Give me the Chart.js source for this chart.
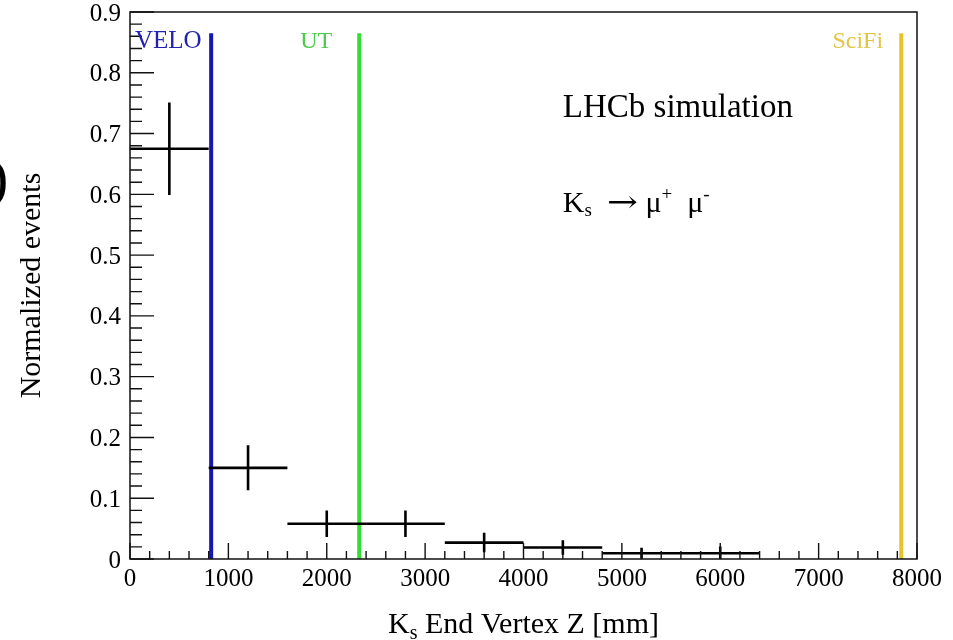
<!DOCTYPE html>
<html><head><meta charset="utf-8">
<script src="https://cdn.jsdelivr.net/npm/chart.js@4.4.1/dist/chart.umd.min.js"></script>
<style>html,body{margin:0;padding:0;background:#fff;}#wrap{width:953px;height:640px;position:relative;}</style>
</head><body><div id="wrap"><canvas id="c"></canvas></div>
<script>
// ---- data ----
const binLow    = [0, 800, 1600, 2400, 3200, 4000, 4800, 5600];
const binHigh   = [800, 1600, 2400, 3200, 4000, 4800, 5600, 6400];
const binValues = [0.675, 0.150, 0.058, 0.058, 0.027, 0.019, 0.0095, 0.0095];
const binErrors = [0.076, 0.037, 0.022, 0.022, 0.016, 0.012, 0.009, 0.011];
const detectorNames = ['VELO', 'UT', 'SciFi'];
const detectorZ     = [825, 2330, 7840];
const detectorTop   = 0.865;
const detectorLabelZ = [50, 1730, 7140];
const xTicks = [0, 1000, 2000, 3000, 4000, 5000, 6000, 7000, 8000];
const yTicks = [0, 0.1, 0.2, 0.3, 0.4, 0.5, 0.6, 0.7, 0.8, 0.9];

const SERIF = "'Liberation Serif', 'DejaVu Serif', serif";
const detectorColors = ['#1616b2', '#33dd33', '#e8c22e'];
const detectorTextColors = ['#2222b0', '#4ccc4c', '#e2c446'];
const detectorLabelSize = [25, 24, 24];

const detectorDatasets = detectorNames.map((n, i) => ({
  type: 'line', label: n,
  data: [{x: detectorZ[i], y: 0}, {x: detectorZ[i], y: detectorTop}],
  borderColor: detectorColors[i], borderWidth: 4, pointRadius: 0, showLine: true, order: 2
}));
const pointsDataset = {
  type: 'scatter', label: 'events',
  data: binValues.map((v, i) => ({x: (binLow[i] + binHigh[i]) / 2, y: v})),
  pointRadius: 0, showLine: false, order: 1
};

function partFont(p) { return p[1] + 'px ' + (p[3] || SERIF); }
function partWidth(ctx, p) { ctx.font = partFont(p); return p[4] || ctx.measureText(p[0]).width; }
function drawRich(ctx, parts, x, y) {
  let cx = x;
  for (const p of parts) {
    ctx.font = partFont(p);
    const nat = ctx.measureText(p[0]).width;
    if (p[4]) {
      ctx.save(); ctx.translate(cx, y + p[2]); ctx.scale(p[4] / nat, 1);
      ctx.fillText(p[0], 0, 0); ctx.restore();
      cx += p[4];
    } else {
      ctx.fillText(p[0], cx, y + p[2]);
      cx += nat;
    }
  }
  return cx - x;
}
function richWidth(ctx, parts) {
  let w = 0;
  for (const p of parts) w += partWidth(ctx, p);
  return w;
}

const rootPlugin = {
  id: 'rootStyle',
  beforeDraw(chart) {
    const ctx = chart.ctx; ctx.save(); ctx.fillStyle = '#fff';
    ctx.fillRect(0, 0, chart.width, chart.height); ctx.restore();
  },
  afterDatasetsDraw(chart) {
    const {ctx, chartArea: a, scales: {x, y}} = chart;
    ctx.save();
    // error crosses
    ctx.strokeStyle = '#000'; ctx.lineWidth = 2.6; ctx.lineCap = 'butt';
    for (let i = 0; i < binValues.length; i++) {
      const yc = y.getPixelForValue(binValues[i]);
      const xc = x.getPixelForValue((binLow[i] + binHigh[i]) / 2);
      ctx.beginPath();
      ctx.moveTo(x.getPixelForValue(binLow[i]), yc);
      ctx.lineTo(x.getPixelForValue(binHigh[i]), yc);
      ctx.moveTo(xc, y.getPixelForValue(binValues[i] + binErrors[i]));
      ctx.lineTo(xc, y.getPixelForValue(Math.max(0, binValues[i] - binErrors[i])));
      ctx.stroke();
    }
    // frame
    ctx.lineWidth = 1.5; ctx.strokeStyle = '#111';
    ctx.strokeRect(a.left, a.top, a.right - a.left, a.bottom - a.top);
    // ticks (ROOT style, inside)
    ctx.lineWidth = 1.4; ctx.beginPath();
    for (let k = 0; k <= 40; k++) {
      const px = x.getPixelForValue(k * 200);
      const len = k % 5 === 0 ? 16 : 8;
      ctx.moveTo(px, a.bottom); ctx.lineTo(px, a.bottom - len);
    }
    for (let k = 0; k <= 45; k++) {
      const py = y.getPixelForValue(k * 0.02);
      const len = k % 5 === 0 ? 24 : 12;
      ctx.moveTo(a.left, py); ctx.lineTo(a.left + len, py);
    }
    ctx.stroke();
    // detector labels
    ctx.textBaseline = 'alphabetic'; ctx.textAlign = 'left';
    detectorNames.forEach((n, i) => {
      ctx.font = detectorLabelSize[i] + 'px ' + SERIF;
      ctx.fillStyle = detectorTextColors[i];
      ctx.fillText(n, x.getPixelForValue(detectorLabelZ[i]), y.getPixelForValue(0.84));
    });
    // annotations
    ctx.fillStyle = '#000';
    ctx.font = '33px ' + SERIF;
    const annX = x.getPixelForValue(4400);
    ctx.fillText('LHCb simulation', annX, y.getPixelForValue(0.727));
    drawRich(ctx, [['K', 30, 0], ['s', 19, 4], ['  ', 30, 0], ['\u2192', 30, 0, "'DejaVu Serif', serif", 31], [' \u03bc', 30, 0], ['+', 19, -12], ['  \u03bc', 30, 0], ['-', 19, -12]],
      annX, y.getPixelForValue(0.571));
    // x title
    const xt = [['K', 30, 0], ['s', 20, 6], [' End Vertex Z [mm]', 30, 0]];
    const w = richWidth(ctx, xt);
    drawRich(ctx, xt, (a.left + a.right) / 2 - w / 2, 633);
    // cropped glyph at left edge of reference
    ctx.font = '58px ' + SERIF;
    ctx.fillText(')', -11, 197);
    ctx.restore();
  }
};

new Chart(document.getElementById('c'), {
  data: { datasets: [...detectorDatasets, pointsDataset] },
  options: {
    responsive: true, maintainAspectRatio: false, animation: false,
    layout: { padding: { left: 0, right: 36, top: 12, bottom: 0 } },
    plugins: { legend: { display: false }, tooltip: { enabled: false } },
    scales: {
      x: {
        type: 'linear', min: 0, max: 8000,
        afterFit(s) { s.height = 81; s.paddingLeft = 0; s.paddingRight = 0; },
        afterBuildTicks(s) { s.ticks = xTicks.map(v => ({value: v})); },
        grid: { display: false, drawTicks: false },
        border: { display: false },
        ticks: { color: '#000', font: { family: SERIF, size: 25 }, padding: 5, maxRotation: 0, callback: v => String(v) }
      },
      y: {
        type: 'linear', min: 0, max: 0.9,
        afterFit(s) { s.width = 130; s.paddingTop = 0; s.paddingBottom = 0; },
        afterBuildTicks(s) { s.ticks = yTicks.map(v => ({value: v})); },
        grid: { display: false, drawTicks: false },
        border: { display: false },
        ticks: { color: '#000', font: { family: SERIF, size: 25 }, padding: 9, labelOffset: 2, callback: v => v === 0 ? '0' : v.toFixed(1) },
        title: { display: true, text: 'Normalized events', color: '#000', font: { family: SERIF, size: 30 }, padding: { top: 14, bottom: 0 } }
      }
    }
  },
  plugins: [rootPlugin]
});
</script></body></html>
